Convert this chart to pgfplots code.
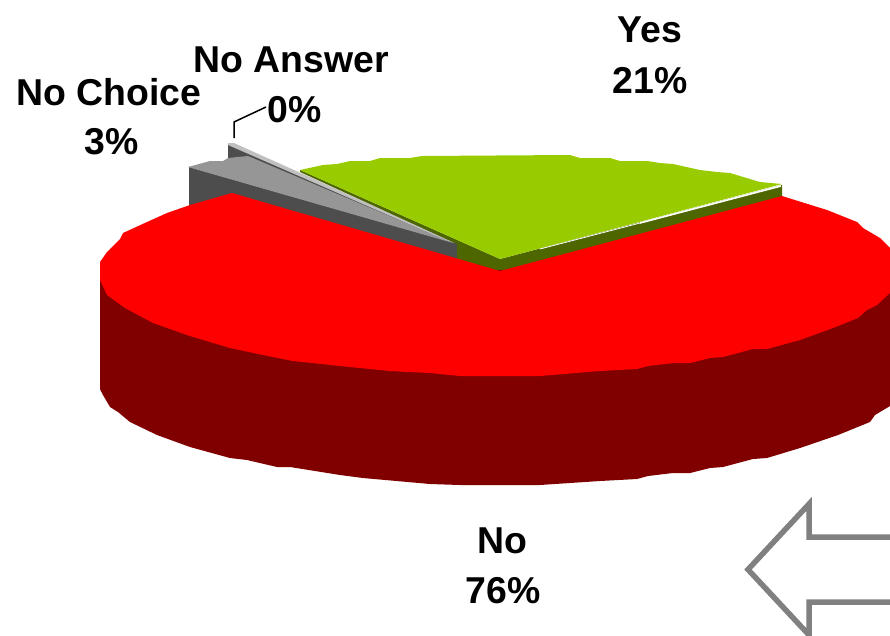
\documentclass[border=0pt]{standalone}
\usepackage{fontspec}
\setmainfont{Liberation Sans}
\usepackage{pgfplots}
\pgfplotsset{compat=1.18}
\definecolor{cRed}{HTML}{FF0000}
\definecolor{cRedD}{HTML}{800000}
\definecolor{cGrn}{HTML}{99CC00}
\definecolor{cGrnD}{HTML}{4D6600}
\definecolor{cGry}{HTML}{969696}
\definecolor{cGryD}{HTML}{4D4D4D}
\definecolor{cGryL}{HTML}{C0C0C0}
\definecolor{cArr}{HTML}{808080}
\tikzset{lbl/.style={font=\fontsize{37.4}{40}\selectfont\bfseries, text=black, inner sep=0pt, anchor=center}}
\begin{document}
\begin{tikzpicture}
\useasboundingbox (0,0) rectangle (890pt,635pt);
\begin{axis}[
  scale only axis, width=890pt, height=635pt,
  xmin=0, xmax=890, ymin=0, ymax=635, y dir=reverse,
  hide axis, clip=true,
]
% No Answer slice
\addplot[fill=cGryD, draw=none] coordinates {(228,144)(228,162)(248,158)(458,245)(458,243)(228,144)};
\addplot[fill=cGryL, draw=none] coordinates {(228,143)(234,143)(456,243)(452,243)(228,145)};
% No Choice wall
\addplot[fill=cGryD, draw=none] coordinates {(189,167)(458,244)(458,260)(232,194)(189,207)};
% No Choice top
\addplot[fill=cGry, draw=none] coordinates {(188,167)(210,161)(223,161)(228,158)(248,156)(453,243)(188,167)};
% Yes walls
\addplot[fill=cGrnD, draw=none] coordinates {(300,170)(500,259)(500,272)(457,259)(457,244)(300,172)};
\addplot[fill=cGrnD, draw=none] coordinates {(500,259)(782,185)(782,197)(500,272)};
% Yes top
\addplot[fill=cGrn, draw=none] coordinates {
 (500,259)(782,184)(760,182)(730,173)(717,172)(700,170)(673,164)(660,163)(647,161)
 (620,161)(610,158)(580,158)(570,155)(422,156)(410,158)(380,158)(370,161)(350,161)
 (337,164)(323,165)(300,170)};
\addplot[white, line width=1.6pt] coordinates {(781,186)(640,223)};
\addplot[white, line width=0.8pt] coordinates {(640,223)(540,249)};
% No side
\addplot[fill=cRedD, draw=none] coordinates {
 (100,270)(100,389)(103,395)(110,407)(118,412)(130,422)(157,435)(190,447)(230,458)
 (247,460)(277,467)(290,467)(340,475)(363,478)(430,484)(460,485)(540,485)(600,481)
 (637,479)(648,476)(673,473)(690,473)(710,468)(723,467)(753,459)(767,458)(800,448)
 (838,435)(870,422)(875,415)(890,406)(900,395)(900,270)};
% No top
\addplot[fill=cRed, draw=none] coordinates {
 (500,271)(232,193)(190,205)(167,213)(147,222)(123,233)(120,239)(107,252)(100,262)
 (100,280)(107,295)(125,308)(153,323)(190,336)(230,348)(263,355)(293,361)(340,366)
 (370,369)(390,371)(430,373)(460,376)(540,376)(600,371)(637,369)(648,366)(673,363)
 (690,363)(710,358)(723,357)(753,349)(767,349)(800,340)(833,328)(858,318)(867,310)
 (877,305)(890,293)(900,280)(900,265)(890,248)(880,238)(863,228)(857,222)(827,210)(782,196)};
% leader
\addplot[black, line width=1.5pt, line join=miter] coordinates {(266,107)(234,122)(234,138)};
% arrow
\addplot[cArr, line width=5.5pt, line join=miter, miter limit=10] coordinates {
 (900,537)(809,537)(809,504)(748,569.5)(809,635)(809,602)(900,602)};
\node[lbl] at (axis cs:650,30) {Yes};
\node[lbl] at (axis cs:650,81) {21\%};
\node[lbl] at (axis cs:109,92) {No Choice};
\node[lbl] at (axis cs:112,142) {3\%};
\node[lbl] at (axis cs:291,60) {No Answer};
\node[lbl] at (axis cs:295,110) {0\%};
\node[lbl] at (axis cs:502,541) {No};
\node[lbl] at (axis cs:503,591) {76\%};
\end{axis}
\end{tikzpicture}
\end{document}
